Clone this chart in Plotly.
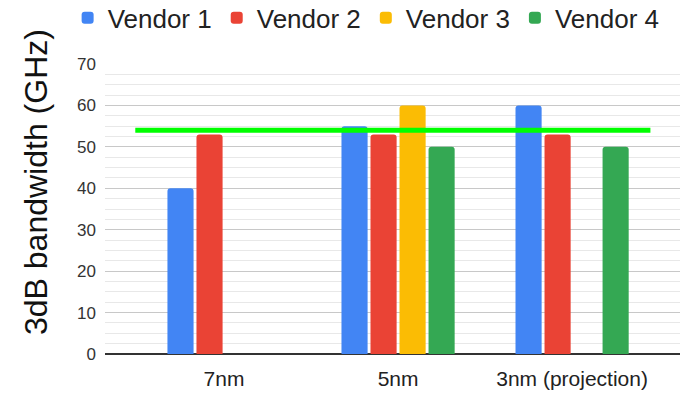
import plotly.graph_objects as go

categories = ["7nm", "5nm", "3nm (projection)"]
vendor_names = ["Vendor 1", "Vendor 2", "Vendor 3", "Vendor 4"]
vendor1 = [40, 55, 60]
vendor2 = [53, 53, 53]
vendor3 = [None, 60, None]
vendor4 = [None, 50, 50]
threshold = 54
y_ticks = [0, 10, 20, 30, 40, 50, 60, 70]
y_title = "3dB bandwidth (GHz)"

colors = ["#4285F4", "#EA4335", "#FBBC04", "#34A853"]
series = [vendor1, vendor2, vendor3, vendor4]

fig = go.Figure()
for name, vals, c in zip(vendor_names, series, colors):
    fig.add_trace(go.Bar(x=categories, y=vals, name=name, marker=dict(color=c, line=dict(width=0))))

fig.add_shape(type="line", xref="x", yref="y", x0=-0.51, x1=2.45, y0=threshold, y1=threshold,
              line=dict(color="#00FF00", width=5), layer="above")

fig.add_annotation(text=y_title, xref="paper", yref="paper", x=-0.12, y=0.593,
                   xanchor="center", yanchor="middle", textangle=-90, showarrow=False,
                   font=dict(size=32, color="#111"))

fig.update_layout(
    width=682, height=396,
    margin=dict(l=105, r=2, t=64, b=42, autoexpand=False),
    paper_bgcolor="white", plot_bgcolor="white",
    barmode="group", bargap=0.333, bargroupgap=0.1, barcornerradius=3,
    font=dict(family="Liberation Sans, Arial, sans-serif", color="#222"),
    legend=dict(orientation="h", x=-0.065, xanchor="left", y=1.159, yanchor="middle",
                font=dict(size=26, color="#222"), itemwidth=30, traceorder="normal"),
    xaxis=dict(range=[-0.684, 2.62], showgrid=False, tickfont=dict(size=21, color="#222"),
               ticks="", showline=False, ticklabelstandoff=10),
    yaxis=dict(range=[0, 70], tickvals=y_ticks, showgrid=True, gridcolor="#c8c8c8", gridwidth=1,
               zeroline=True, zerolinecolor="#333", zerolinewidth=1.5,
               tickfont=dict(size=17, color="#333"), ticks="", ticklabelstandoff=8,
               minor=dict(dtick=2.5, showgrid=True, gridcolor="#e8e8e8", gridwidth=1)),
)

fig.write_html("out.html")
